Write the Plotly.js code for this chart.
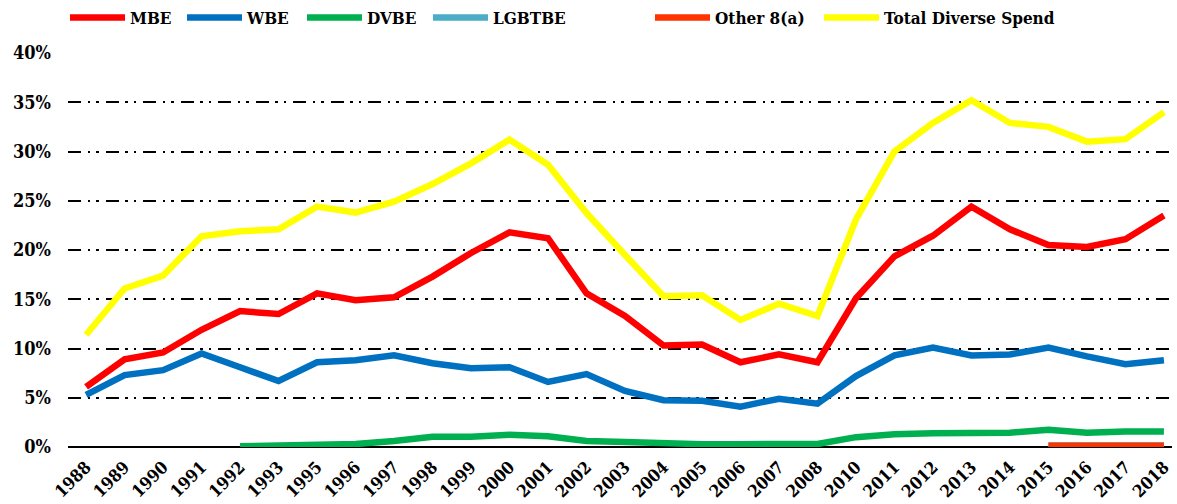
<!DOCTYPE html>
<html>
<head>
<meta charset="utf-8">
<script src="https://cdn.plot.ly/plotly-3.0.1.min.js"></script>
<style>html,body{margin:0;padding:0;background:#fff;}#chart{width:1177px;height:504px;}</style>
</head>
<body>
<div id="chart"></div>
<script>
const years = ["1988","1989","1990","1991","1992","1993","1995","1996","1997","1998","1999","2000","2001","2002","2003","2004","2005","2006","2007","2008","2010","2011","2012","2013","2014","2015","2016","2017","2018"];

const mbe = [6.1,8.9,9.6,11.9,13.8,13.5,15.6,14.9,15.2,17.3,19.7,21.8,21.2,15.6,13.3,10.3,10.4,8.6,9.4,8.6,15.1,19.35,21.45,24.4,22.1,20.5,20.3,21.1,23.5];
const wbe = [5.3,7.3,7.8,9.5,8.1,6.7,8.6,8.8,9.3,8.5,8.0,8.1,6.6,7.4,5.7,4.75,4.7,4.1,4.9,4.4,7.2,9.3,10.1,9.3,9.4,10.1,9.2,8.4,8.8];
const dvbe = [null,null,null,null,0.08,0.18,0.25,0.3,0.6,1.03,1.03,1.25,1.1,0.6,0.5,0.32,0.29,0.29,0.35,0.3,1.0,1.3,1.4,1.5,1.45,1.75,1.45,1.57,1.57];
const lgbtbe = [null,null,null,null,null,null,null,null,null,null,null,null,null,null,null,null,null,null,null,null,null,null,null,null,null,0.15,0.15,0.16,0.16];
const other8a = [null,null,null,null,null,null,null,null,null,null,null,null,null,null,null,null,null,null,null,null,null,null,null,null,null,0.12,0.12,0.13,0.13];
const total = [11.4,16.1,17.4,21.4,21.9,22.1,24.4,23.8,24.9,26.7,28.8,31.2,28.65,23.75,19.5,15.3,15.4,12.9,14.55,13.3,23.1,30.0,32.9,35.2,32.9,32.5,31.0,31.25,34.0];

const seriesNames = ["MBE","WBE","DVBE","LGBTBE","Other 8(a)","Total Diverse Spend"];
const seriesData = [mbe, wbe, dvbe, lgbtbe, other8a, total];
const seriesColors = ["#ff0000","#0070c0","#00b050","#4bacc6","#ff3300","#ffff00"];
const legendTextX = [129, 246, 366, 492, 714, 883];

const FONT = "DejaVu Serif Condensed, DejaVu Serif, serif";
const W = 1177, H = 504;

const legendIds = ["legend","legend2","legend3","legend4","legend5","legend6"];

const traces = seriesNames.map((n, i) => ({
  type: "scatter",
  mode: "lines",
  name: n,
  x: years,
  y: seriesData[i],
  line: {color: seriesColors[i], width: 6.5, shape: "linear"},
  connectgaps: false,
  legend: legendIds[i],
  hoverinfo: "x+y+name"
}));

const layout = {
  width: W,
  height: H,
  margin: {l: 68, r: 5, t: 53, b: 57, pad: 0, autoexpand: false},
  paper_bgcolor: "#ffffff",
  plot_bgcolor: "#ffffff",
  font: {family: FONT, size: 17, color: "#000", weight: "bold"},
  showlegend: true,
  xaxis: {
    type: "category",
    range: [-0.47, 28.21],
    showgrid: false,
    showline: false,
    zeroline: false,
    ticks: "",
    tickangle: -45,
    ticklabelstandoff: 6,
    tickfont: {family: FONT, size: 17, color: "#000", weight: "bold"},
    fixedrange: true
  },
  yaxis: {
    range: [0, 40],
    tickvals: [0,5,10,15,20,25,30,35,40],
    ticktext: ["0%","5%","10%","15%","20%","25%","30%","35%","40%"],
    showgrid: true,
    gridcolor: "#000",
    gridwidth: 2,
    griddash: "13px,6.5px,2.5px,6px,2.5px,7px",
    zeroline: true,
    zerolinecolor: "#000",
    zerolinewidth: 2.5,
    showline: false,
    ticks: "",
    ticklabelstandoff: 16,
    tickfont: {family: FONT, size: 18, color: "#000", weight: "bold"},
    fixedrange: true
  }
};

legendIds.forEach((id, i) => {
  layout[id] = {
    orientation: "h",
    xref: "container", yref: "container",
    x: (legendTextX[i] - 64) / W, xanchor: "left",
    y: 1 - 18 / H, yanchor: "middle",
    font: {family: FONT, size: 17, color: "#000", weight: "bold"},
    itemwidth: 55,
    bgcolor: "rgba(0,0,0,0)",
    borderwidth: 0
  };
});

Plotly.newPlot("chart", traces, layout, {displayModeBar: false, staticPlot: true});
</script>
</body>
</html>
